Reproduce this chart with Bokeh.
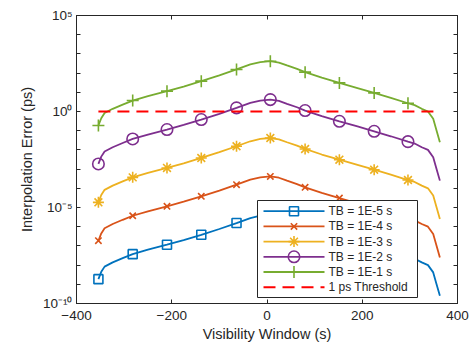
from bokeh.plotting import figure
from bokeh.models import (FixedTicker, CustomJSTickFormatter, LinearAxis, LogAxis,
                          ColumnDataSource, Range1d, LinearScale)
from bokeh.core.properties import value
from bokeh.embed import file_html
from bokeh.resources import INLINE

# Visibility window samples (s) and the samples that carry a marker
window_s = [-354, -348, -341, -324, -303, -282, -250, -210, -175, -138, -100, -64, -35, -14,
            7, 25, 42, 63, 80, 115, 152, 190, 225, 260, 296, 310, 325, 338, 349, 356, 363]
marker_idx = [0, 5, 7, 9, 11, 14, 18, 20, 22, 24]

# Interpolation error (ps) for each time base
err_tb_1e5 = [1.86e-9, 4.47e-9, 8.32e-9, 1.38e-8, 2.29e-8, 3.72e-8, 6.31e-8, 1.15e-7, 2.00e-7,
              3.80e-7, 7.59e-7, 1.55e-6, 2.82e-6, 3.72e-6, 4.17e-6, 3.55e-6, 2.51e-6, 1.66e-6,
              1.12e-6, 5.75e-7, 3.09e-7, 1.66e-7, 9.33e-8, 5.13e-8, 2.69e-8, 2.14e-8, 1.38e-8,
              1.00e-8, 4.17e-9, 1.02e-9, 2.51e-10]
err_tb_1e4 = [1.86e-7, 4.47e-7, 8.32e-7, 1.38e-6, 2.29e-6, 3.72e-6, 6.31e-6, 1.15e-5, 2.00e-5,
              3.80e-5, 7.59e-5, 1.55e-4, 2.82e-4, 3.72e-4, 4.17e-4, 3.55e-4, 2.51e-4, 1.66e-4,
              1.12e-4, 5.75e-5, 3.09e-5, 1.66e-5, 9.33e-6, 5.13e-6, 2.69e-6, 2.14e-6, 1.38e-6,
              1.00e-6, 4.17e-7, 1.02e-7, 2.51e-8]
err_tb_1e3 = [1.86e-5, 4.47e-5, 8.32e-5, 1.38e-4, 2.29e-4, 3.72e-4, 6.31e-4, 1.15e-3, 2.00e-3,
              3.80e-3, 7.59e-3, 1.55e-2, 2.82e-2, 3.72e-2, 4.17e-2, 3.55e-2, 2.51e-2, 1.66e-2,
              1.12e-2, 5.75e-3, 3.09e-3, 1.66e-3, 9.33e-4, 5.13e-4, 2.69e-4, 2.14e-4, 1.38e-4,
              1.00e-4, 4.17e-5, 1.02e-5, 2.51e-6]
err_tb_1e2 = [1.86e-3, 4.47e-3, 8.32e-3, 1.38e-2, 2.29e-2, 3.72e-2, 6.31e-2, 1.15e-1, 2.00e-1,
              3.80e-1, 7.59e-1, 1.55e0, 2.82e0, 3.72e0, 4.17e0, 3.55e0, 2.51e0, 1.66e0,
              1.12e0, 5.75e-1, 3.09e-1, 1.66e-1, 9.33e-2, 5.13e-2, 2.69e-2, 2.14e-2, 1.38e-2,
              1.00e-2, 4.17e-3, 1.02e-3, 2.51e-4]
err_tb_1e1 = [1.86e-1, 4.47e-1, 8.32e-1, 1.38e0, 2.29e0, 3.72e0, 6.31e0, 1.15e1, 2.00e1,
              3.80e1, 7.59e1, 1.55e2, 2.82e2, 3.72e2, 4.17e2, 3.55e2, 2.51e2, 1.66e2,
              1.12e2, 5.75e1, 3.09e1, 1.66e1, 9.33e0, 5.13e0, 2.69e0, 2.14e0, 1.38e0,
              1.00e0, 4.17e-1, 1.02e-1, 2.51e-2]

series_labels = ["TB = 1E-5 s", "TB = 1E-4 s", "TB = 1E-3 s", "TB = 1E-2 s", "TB = 1E-1 s"]
threshold_ps = 1.0
threshold_label = "1 ps Threshold"

x_tick_values = [-400, -200, 0, 200, 400]
y_tick_values = [10.0 ** k for k in range(-10, 6)]
y_label_values = [1e-10, 1e-5, 1e0, 1e5]
y_tick_labels = ["10\u207b\u00b9\u2070", "10\u207b\u2075", "10\u2070", "10\u2075"]

AX = "#262626"
FONT = "Liberation Sans"
FRAME_W, FRAME_H = 381, 288

p = figure(width=475, height=348, x_range=(-400, 400), y_range=(1e-10, 1e5),
           y_axis_type="log", output_backend="svg", toolbar_location=None,
           min_border_left=76, min_border_right=18, min_border_top=15, min_border_bottom=45)
p.xgrid.visible = False
p.ygrid.visible = False
p.outline_line_color = AX
p.outline_line_width = 1
p.background_fill_color = "white"
p.border_fill_color = "white"

# pixel-based ranges over the plot frame, used to lay out the legend box
p.extra_x_ranges = {"leg": Range1d(0, FRAME_W)}
p.extra_y_ranges = {"leg": Range1d(0, FRAME_H)}
p.extra_x_scales = {"leg": LinearScale()}
p.extra_y_scales = {"leg": LinearScale()}

x_ticker = FixedTicker(ticks=x_tick_values, minor_ticks=[])
y_ticker = FixedTicker(ticks=y_tick_values, minor_ticks=[])
y_fmt = CustomJSTickFormatter(args=dict(vals=y_label_values, labels=y_tick_labels), code="""
    for (let i = 0; i < vals.length; i++) {
        if (Math.abs(Math.log10(tick) - Math.log10(vals[i])) < 1e-6) return labels[i];
    }
    return "";
""")
blank_fmt = CustomJSTickFormatter(code="return '';")


def style_axis(ax, show):
    ax.axis_line_color = AX
    ax.axis_line_width = 1
    ax.major_tick_line_color = AX
    ax.major_tick_in = 4
    ax.major_tick_out = 0
    ax.minor_tick_in = 0
    ax.minor_tick_out = 0
    ax.major_label_text_font = FONT
    ax.major_label_text_color = AX
    ax.axis_label_text_font = FONT
    ax.axis_label_text_font_style = "normal"
    ax.axis_label_text_color = AX
    if show:
        ax.major_label_text_font_size = "13.5px"
        ax.axis_label_text_font_size = "14.5px"
    else:
        ax.major_label_text_font_size = "0px"
        ax.major_label_standoff = 0


xb = p.xaxis[0]
xb.ticker = x_ticker
xb.axis_label = "Visibility Window (s)"
xb.major_label_standoff = 7
xb.axis_label_standoff = 3
style_axis(xb, True)

yl = p.yaxis[0]
yl.ticker = y_ticker
yl.formatter = y_fmt
yl.axis_label = "Interpolation Error (ps)"
yl.major_label_standoff = 4
yl.axis_label_standoff = 5
style_axis(yl, True)

xt = LinearAxis(ticker=x_ticker, formatter=blank_fmt)
style_axis(xt, False)
p.add_layout(xt, "above")
yr = LogAxis(ticker=y_ticker, formatter=blank_fmt)
style_axis(yr, False)
p.add_layout(yr, "right")

styles = [
    ("#0072BD", "square", 9),
    ("#D95319", "x", 9),
    ("#EDB120", "asterisk", 11),
    ("#7E2F8E", "circle", 11.5),
    ("#77AC30", "cross", 12),
]
all_series = [err_tb_1e5, err_tb_1e4, err_tb_1e3, err_tb_1e2, err_tb_1e1]

for vals, (color, marker, size) in zip(all_series, styles):
    src = ColumnDataSource(dict(x=window_s, y=vals))
    p.line("x", "y", source=src, line_color=color, line_width=1.8)
    msrc = ColumnDataSource(dict(x=[window_s[i] for i in marker_idx],
                                 y=[vals[i] for i in marker_idx]))
    p.scatter("x", "y", source=msrc, marker=marker, size=size, line_color=color,
              fill_color=None, line_width=1.6)

p.line([window_s[0], window_s[-1]], [threshold_ps, threshold_ps],
       line_color="#FF0000", line_width=2, line_dash="12 7")

# legend box (frame pixel units, origin at the frame's lower-left corner)
LEG_L, LEG_R, LEG_B, LEG_T = 181, 341, 6, 103
ROW0, ROW_STEP = 92.3, 15.2
SAMPLE_L, SAMPLE_R, TEXT_X = 187, 248, 252
leg = dict(x_range_name="leg", y_range_name="leg")

p.quad(left=[LEG_L], right=[LEG_R], bottom=[LEG_B], top=[LEG_T],
       fill_color="white", line_color=AX, line_width=1, **leg)
row_y = [ROW0 - ROW_STEP * i for i in range(len(series_labels) + 1)]
for i, (color, marker, size) in enumerate(styles):
    p.line([SAMPLE_L, SAMPLE_R], [row_y[i], row_y[i]], line_color=color, line_width=1.8, **leg)
    p.scatter([(SAMPLE_L + SAMPLE_R) / 2], [row_y[i]], marker=marker, size=size,
              line_color=color, fill_color=None, line_width=1.6, **leg)
p.line([SAMPLE_L, SAMPLE_R], [row_y[-1], row_y[-1]], line_color="#FF0000", line_width=2,
       line_dash="12 7", **leg)
p.text(x=[TEXT_X] * len(row_y), y=row_y, text=series_labels + [threshold_label],
       text_font=value(FONT), text_font_size="12px", text_baseline="middle",
       text_align="left", text_color=AX, **leg)

open("out.html", "w").write(file_html(p, INLINE))
